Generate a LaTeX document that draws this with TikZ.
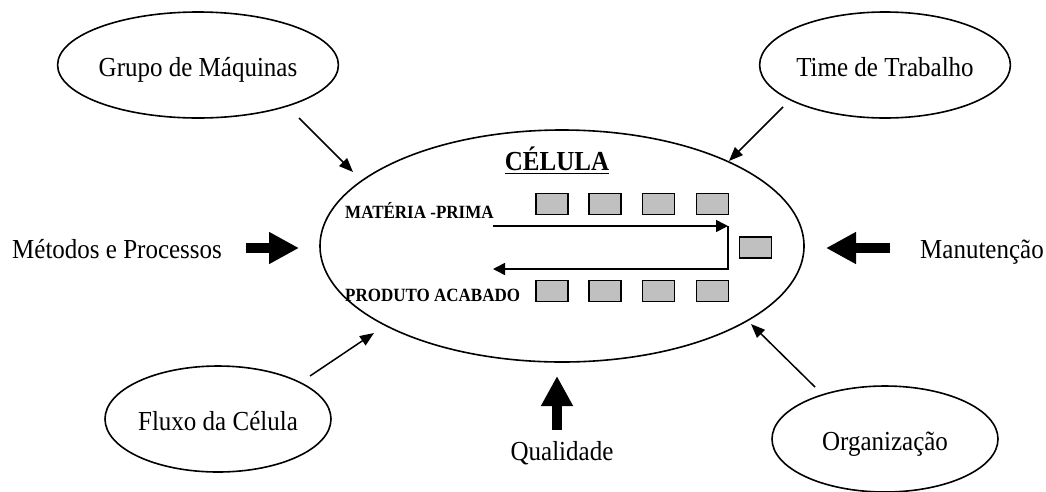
\documentclass[tikz,border=0pt]{standalone}
\usepackage{fontspec}
\setmainfont{Liberation Serif}
\usetikzlibrary{shapes.geometric,arrows.meta}
\definecolor{boxgray}{RGB}{192,192,192}
\newcommand{\vs}[1]{\scalebox{1}[1.1]{#1}}
\begin{document}
\begin{tikzpicture}[x=1pt,y=-1pt,
  oval/.style={ellipse,draw,line width=1.6pt,minimum width=226pt,minimum height=106pt,inner sep=0pt,font=\fontsize{25}{30}\selectfont,text height=22pt,text depth=0pt},
  lbl/.style={inner sep=0pt,font=\fontsize{25}{30}\selectfont},
  smalllbl/.style={inner sep=0pt,font=\fontsize{17}{20}\selectfont\bfseries},
  thinarr/.style={line width=1.5pt,-{Triangle[length=14pt,width=11pt]}},
  fatarr/.style={line width=10pt,-{Triangle[length=30pt,width=30pt]}},
  flowarr/.style={line width=1.6pt},
  mach/.style={draw,fill=boxgray,line width=1.1pt,minimum width=32pt,minimum height=21pt,inner sep=0pt}]
\useasboundingbox (0,0) rectangle (1046,491);
% main cell
\node[ellipse,draw,line width=1.6pt,minimum width=484pt,minimum height=232pt,inner sep=0pt] (cel) at (562,246) {};
\node[anchor=base,inner sep=0pt,font=\fontsize{25}{30}\selectfont\bfseries] (title) at (557,170) {\vs{CÉLULA}};
\draw[line width=1.8pt] ([yshift=-3.5pt]title.base west) -- ([yshift=-3.5pt]title.base east);
% machines
\node[mach] (t1) at (552,204) {};
\node[mach] (t2) at (605,204) {};
\node[mach] (t3) at (658.5,204) {};
\node[mach] (t4) at (712.5,204) {};
\node[mach] (r1) at (755.5,247.5) {};
\node[mach] (b1) at (552,291) {};
\node[mach] (b2) at (605,291) {};
\node[mach] (b3) at (658.5,291) {};
\node[mach] (b4) at (712.5,291) {};
\node[smalllbl,anchor=base west] (mp) at (345,218) {\vs{MATÉRIA -PRIMA}};
\node[smalllbl,anchor=base west] (pa) at (345,301) {\vs{PRODUTO ACABADO}};
% flow
\coordinate (fa) at (493,226);
\coordinate (fb) at (728,226);
\coordinate (fc) at (728,269);
\coordinate (fd) at (493,269);
\draw[flowarr,-{Triangle[length=12pt,width=12pt]}] (fa) -- (fb);
\draw[flowarr,-{Triangle[length=12pt,width=12pt]}] (fb) -- (fc) -- (fd);
% outer ovals
\node[oval] (gm) at (198,65) {\vs{Grupo de Máquinas}};
\node[oval] (tt) at (885,65) {\vs{Time de Trabalho}};
\node[oval] (fx) at (218,419) {\vs{Fluxo da Célula}};
\node[oval] (org) at (885,439) {\vs{Organização}};
% thin arrows
\coordinate (gm1) at (299,118); \coordinate (gm2) at (353,172);
\coordinate (tt1) at (783,107); \coordinate (tt2) at (729,161);
\coordinate (fx1) at (310,376); \coordinate (fx2) at (374,333);
\coordinate (or1) at (815,387); \coordinate (or2) at (751,324);
\draw[thinarr] (gm1) -- (gm2);
\draw[thinarr] (tt1) -- (tt2);
\draw[thinarr] (fx1) -- (fx2);
\draw[thinarr] (or1) -- (or2);
% side labels and fat arrows
\node[lbl,anchor=base west] (met) at (12,258) {\vs{Métodos e Processos}};
\node[lbl,anchor=base west] (man) at (920,258) {\vs{Manutenção}};
\node[lbl,anchor=base] (qual) at (562,460) {\vs{Qualidade}};
\coordinate (me1) at (246,248); \coordinate (me2) at (299,248);
\coordinate (ma1) at (890,248); \coordinate (ma2) at (826,248);
\coordinate (qu1) at (557,430); \coordinate (qu2) at (557,376);
\draw[fatarr] (me1) -- (me2);
\draw[fatarr] (ma1) -- (ma2);
\draw[fatarr] (qu1) -- (qu2);
\end{tikzpicture}
\end{document}
